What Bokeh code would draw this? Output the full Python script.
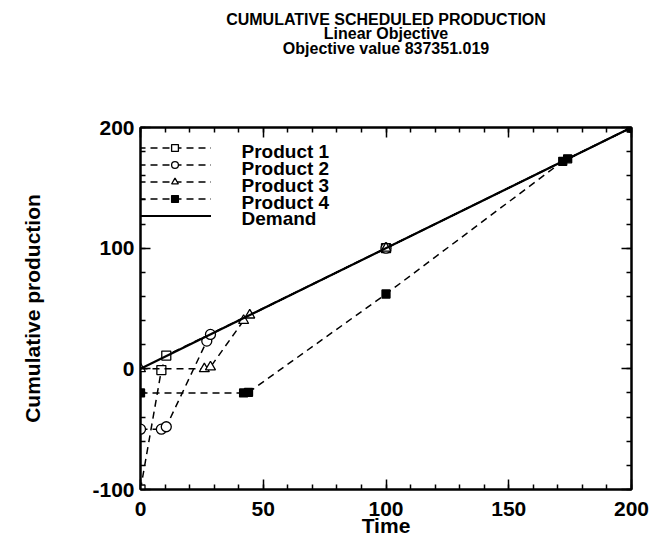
from bokeh.plotting import figure
from bokeh.models import LinearAxis, Legend, LegendItem, SingleIntervalTicker, Range1d, Label, Title
from bokeh.embed import file_html
from bokeh.resources import INLINE

# ---- data ----
t_p1 = [0, 8.5, 10.5, 100, 200]
y_p1 = [-100, -1, 11, 100, 200]

t_p2 = [0, 8.5, 10.5, 27, 28.5, 100, 200]
y_p2 = [-50, -50, -48, 23, 28.5, 100, 200]

t_p3 = [0, 26, 28.5, 42, 44.5, 100, 200]
y_p3 = [0, 0, 1.5, 40, 44.5, 100, 200]

t_p4 = [0, 42, 44, 100, 172, 174, 200]
y_p4 = [-20, -20, -19.5, 62, 172, 174, 200]

t_dem = [0, 200]
y_dem = [0, 200]

y_tick_labels = {-100: "-100", 0: "0", 100: "100", 200: "200"}
title_lines = ["CUMULATIVE SCHEDULED PRODUCTION", "Linear Objective", "Objective value 837351.019"]
series_labels = ["Product 1", "Product 2", "Product 3", "Product 4", "Demand"]

FONT = "Liberation Sans"
X0, X1, Y0, Y1 = 0, 200, -100, 200
FW, FH = 491, 366   # frame size in px (653-140-22, 539-127-46)

p = figure(width=653, height=539, output_backend="svg", toolbar_location=None,
           x_range=Range1d(X0, X1), y_range=Range1d(Y0, Y1),
           min_border_left=140, min_border_right=22, min_border_bottom=46, min_border_top=127,
           x_axis_label="Time", y_axis_label="Cumulative production")
p.background_fill_color = "white"
p.border_fill_color = "white"
p.xgrid.visible = False
p.ygrid.visible = False
p.outline_line_color = "black"
p.outline_line_width = 2

def make_title(t, standoff):
    return Title(text=t, align="center", text_font=FONT, text_font_size="16px",
                 text_font_style="bold", text_color="black", standoff=standoff)

p.title = make_title(title_lines[0], 0)

def style_axis(ax, labels=True):
    ax.axis_line_color = "black"
    ax.axis_line_width = 2
    ax.major_tick_in = 10
    ax.major_tick_out = 0
    ax.minor_tick_in = 5
    ax.minor_tick_out = 0
    ax.major_tick_line_width = 1.5
    ax.minor_tick_line_width = 1.5
    ax.major_label_text_font = FONT
    ax.major_label_text_font_size = "21px"
    ax.major_label_text_font_style = "bold"
    ax.major_label_text_color = "black"
    ax.axis_label_text_font = FONT
    ax.axis_label_text_font_size = "21px"
    ax.axis_label_text_font_style = "bold"
    ax.axis_label_text_color = "black"
    if not labels:
        ax.major_label_text_font_size = "0px"
        ax.major_label_text_color = None
        ax.major_label_text_alpha = 0

p.xaxis.ticker = SingleIntervalTicker(interval=50, num_minor_ticks=5)
p.yaxis.ticker = SingleIntervalTicker(interval=100, num_minor_ticks=5)
for ax in p.xaxis:
    style_axis(ax)
    ax.major_label_standoff = 12
    ax.axis_label_standoff = -5
for ax in p.yaxis:
    style_axis(ax)
    ax.major_label_standoff = 6
    ax.axis_label_standoff = 45
    ax.major_label_overrides = y_tick_labels

top = LinearAxis(ticker=SingleIntervalTicker(interval=50, num_minor_ticks=5))
style_axis(top, labels=False)
top.major_label_standoff = 0
# invisible spacer axis that only reserves the gap between the frame and the titles
spacer = LinearAxis(ticker=SingleIntervalTicker(interval=50, num_minor_ticks=0),
                    axis_line_color=None, major_tick_line_color=None, minor_tick_line_color=None,
                    major_tick_in=0, major_tick_out=71, minor_tick_out=0,
                    major_label_text_font_size="0px", major_label_text_color=None,
                    major_label_text_alpha=0, major_label_standoff=0)
right = LinearAxis(ticker=SingleIntervalTicker(interval=100, num_minor_ticks=5))
style_axis(right, labels=False)
right.major_label_standoff = 0
p.add_layout(right, "right")
p.above = [top, spacer, make_title(title_lines[2], 0), make_title(title_lines[1], -9)]

DASH = "7 5"
l1 = p.line(t_p1, y_p1, line_color="black", line_width=1.5, line_dash=DASH)
s1 = p.scatter(t_p1, y_p1, marker="square", size=9, fill_color="white", line_color="black", line_width=1.3)
l2 = p.line(t_p2, y_p2, line_color="black", line_width=1.5, line_dash=DASH)
s2 = p.scatter(t_p2, y_p2, marker="circle", size=10, fill_color="white", line_color="black", line_width=1.3)
l3 = p.line(t_p3, y_p3, line_color="black", line_width=1.5, line_dash=DASH)
s3 = p.scatter(t_p3, y_p3, marker="triangle", size=10, fill_color="white", line_color="black", line_width=1.3)
l4 = p.line(t_p4, y_p4, line_color="black", line_width=1.5, line_dash=DASH)
s4 = p.scatter(t_p4, y_p4, marker="square", size=8, fill_color="black", line_color="black", line_width=1.3)
ld = p.line(t_dem, y_dem, line_color="black", line_width=2.2)

# legend: glyph samples from Bokeh's Legend, label texts as Labels so rows can be packed tightly
ROW = 17
LEG_BOTTOM = 265          # px from frame bottom
renderer_sets = [[l1, s1], [l2, s2], [l3, s3], [l4, s4], [ld]]
legend = Legend(items=[LegendItem(label=" ", renderers=r) for r in renderer_sets])
legend.border_line_color = None
legend.background_fill_alpha = 0
legend.label_text_font_size = "10px"
legend.label_text_color = None
legend.glyph_width = 73
legend.glyph_height = ROW
legend.label_height = ROW
legend.label_width = 1
legend.spacing = 0
legend.padding = 0
legend.margin = 0
legend.label_standoff = 0
legend.click_policy = "none"
legend.location = (-2, LEG_BOTTOM)
p.add_layout(legend)

n = len(series_labels)
for i, lab in enumerate(series_labels):
    row_center_px = LEG_BOTTOM + (n - i - 0.5) * ROW      # from frame bottom
    lx = X0 + (101 / FW) * (X1 - X0)
    ly = Y0 + (row_center_px / FH) * (Y1 - Y0)
    p.add_layout(Label(x=lx, y=ly, text=lab, text_font=FONT, text_font_size="19px",
                       text_font_style="bold", text_color="black", text_baseline="middle",
                       text_align="left"))

open("out.html", "w").write(file_html(p, INLINE))
